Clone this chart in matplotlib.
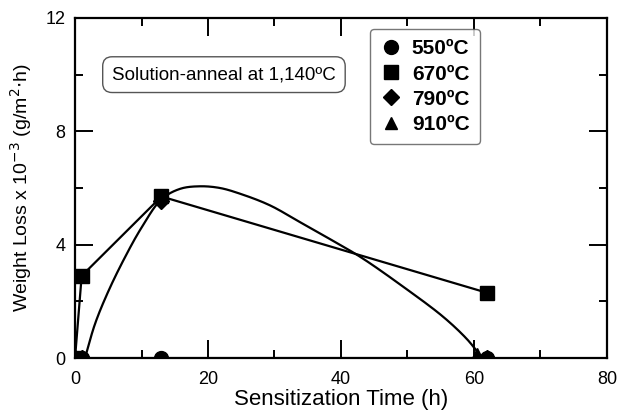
import matplotlib
import matplotlib.pyplot as plt
import numpy as np

matplotlib.use('Agg')

plt.rcParams['font.family'] = 'Liberation Sans'

# Data
t_550 = [0, 1, 13, 62]
w_550 = [0, 0, 0, 0]
t_670 = [0, 1, 13, 62]
w_670 = [0, 2.9, 5.7, 2.3]
t_790 = [0, 1, 13, 62]
w_790 = [0, 0, 5.55, 0]
t_910 = [0, 1, 13, 60.5]
w_910 = [0, 0, 0, 0.15]

# hand-drawn trend curve
trend_t = [1.5, 3, 5, 7.5, 10, 13, 15.8, 18.8, 21.8, 24.8, 29.3, 33.8,
           37.8, 42.9, 49.4, 55.4, 58.9, 60.6]
trend_w = [0, 1.2, 2.35, 3.55, 4.6, 5.6, 5.97, 6.06, 6.0, 5.8, 5.39, 4.8,
           4.27, 3.57, 2.51, 1.45, 0.68, 0.2]


def smooth(xs, ys, n=24, yscale=4.26):
    # centripetal Catmull-Rom through the read points (pen line only)
    p = np.column_stack([xs, np.asarray(ys) * yscale]).astype(float)
    p = np.vstack([2 * p[0] - p[1], p, 2 * p[-1] - p[-2]])
    out = []
    for i in range(1, len(p) - 2):
        p0, p1, p2, p3 = p[i - 1], p[i], p[i + 1], p[i + 2]
        t0 = 0.0
        t1 = t0 + np.linalg.norm(p1 - p0) ** 0.5
        t2 = t1 + np.linalg.norm(p2 - p1) ** 0.5
        t3 = t2 + np.linalg.norm(p3 - p2) ** 0.5
        t = np.linspace(t1, t2, n, endpoint=False)[:, None]
        a1 = (t1 - t) / (t1 - t0) * p0 + (t - t0) / (t1 - t0) * p1
        a2 = (t2 - t) / (t2 - t1) * p1 + (t - t1) / (t2 - t1) * p2
        a3 = (t3 - t) / (t3 - t2) * p2 + (t - t2) / (t3 - t2) * p3
        b1 = (t2 - t) / (t2 - t0) * a1 + (t - t0) / (t2 - t0) * a2
        b2 = (t3 - t) / (t3 - t1) * a2 + (t - t1) / (t3 - t1) * a3
        out.append((t2 - t) / (t2 - t1) * b1 + (t - t1) / (t2 - t1) * b2)
    out.append(p[-2][None, :])
    out = np.vstack(out)
    return out[:, 0], out[:, 1] / yscale


fig = plt.figure(figsize=(6.17, 4.18), dpi=100)
ax = fig.add_axes([0.1216, 0.1435, 0.862, 0.8135])

lw = 1.6
cx, cy = smooth(trend_t, trend_w)
ax.plot(cx, cy, color='black', lw=lw, zorder=2)
ax.plot(t_670, w_670, color='black', lw=lw, zorder=2)
ax.plot(t_550, w_550, color='black', lw=lw + 0.6, zorder=2)

ax.plot(t_910, w_910, ls='none', marker='^', ms=9, color='black', zorder=3, label='910ºC')
ax.plot(t_790, w_790, ls='none', marker='D', ms=8, color='black', zorder=3, label='790ºC')
ax.plot(t_550, w_550, ls='none', marker='o', ms=10, color='black', zorder=4, label='550ºC')
ax.plot(t_670, w_670, ls='none', marker='s', ms=10, color='black', zorder=4, label='670ºC')

ax.set_xlim(0, 80)
ax.set_ylim(0, 12)
ax.set_xticks([0, 20, 40, 60, 80])
ax.set_yticks([0, 4, 8, 12])
ax.set_xticks([10, 30, 50, 70], minor=True)
ax.set_yticks([2, 6, 10], minor=True)
ax.tick_params(which='both', direction='in', top=True, right=True, width=1.4, labelsize=13)
ax.tick_params(which='major', length=13)
ax.tick_params(which='minor', length=6)
ax.tick_params(axis='x', pad=9)
ax.tick_params(axis='y', pad=7)
for spine in ax.spines.values():
    spine.set_linewidth(1.6)

ax.set_xlabel('Sensitization Time (h)', fontsize=16, labelpad=1)
ax.set_ylabel('Weight Loss x 10$^{-3}$ (g/m$^2$$\\cdot$h)', fontsize=14, labelpad=8)

ax.text(22.4, 10.0, 'Solution-anneal at 1,140ºC', fontsize=13.5, ha='center', va='center',
        bbox=dict(boxstyle='round,pad=0.5', fc='white', ec='#555555', lw=1.0))

handles, labels = ax.get_legend_handles_labels()
order = ['550ºC', '670ºC', '790ºC', '910ºC']
hmap = dict(zip(labels, handles))
leg = ax.legend([hmap[k] for k in order], order, loc='upper left',
                bbox_to_anchor=(0.555, 0.968), borderaxespad=0,
                prop={'weight': 'bold', 'size': 15}, handlelength=1.0, handletextpad=0.5,
                labelspacing=0.3, frameon=True, fancybox=True, edgecolor='#555555',
                borderpad=0.5)
leg.get_frame().set_linewidth(1.0)

plt.savefig('out.png', dpi=100)
